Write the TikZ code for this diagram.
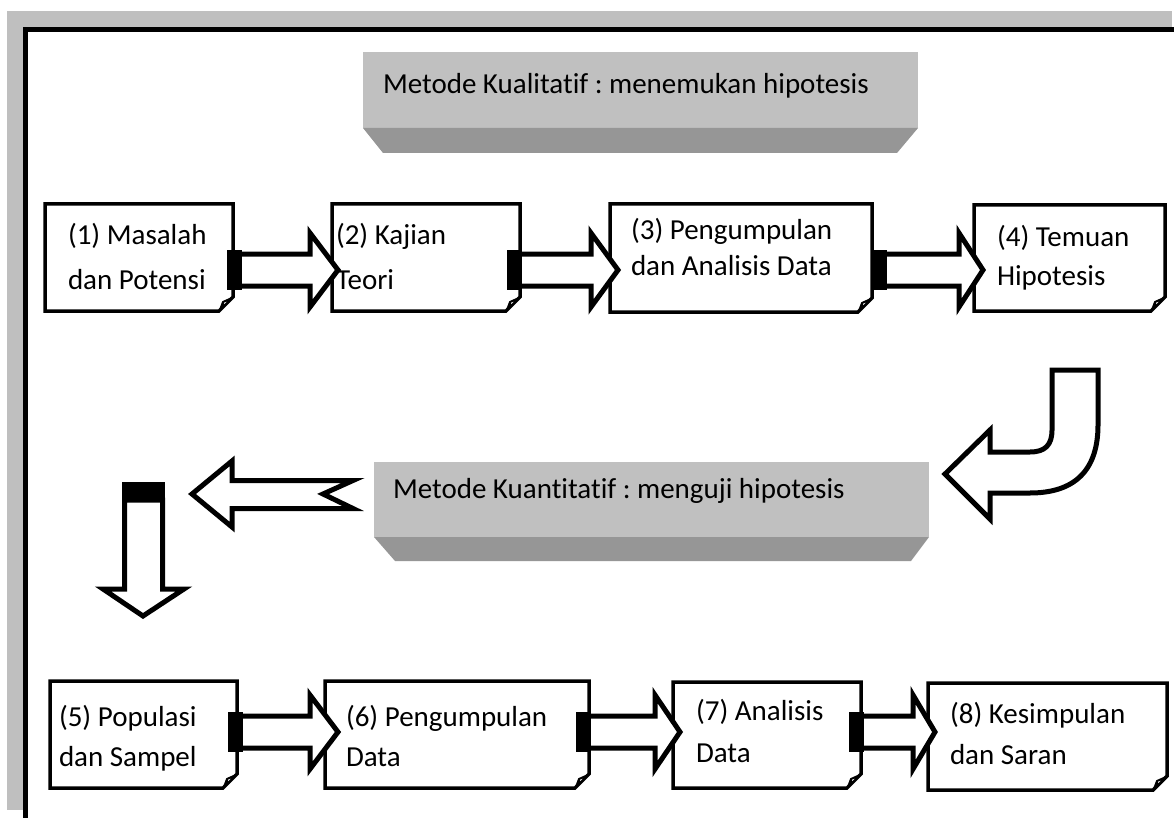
\documentclass[tikz,border=0pt]{standalone}
\usepackage{fontspec}
\setmainfont{Carlito}[Ligatures={NoCommon,NoContextual}]
\frenchspacing
\definecolor{pagegray}{RGB}{191,191,191}
\definecolor{titleface}{RGB}{192,192,192}
\definecolor{titleshade}{RGB}{150,150,150}
\tikzset{
  boxarea/.style={rectangle, inner sep=0pt, outer sep=0pt, draw=none},
  docbox/.style={draw=black, line width=3.5pt, fill=white, line join=miter},
  foldline/.style={draw=black, line width=2pt, fill=white, line join=round},
  barrow/.style={draw=black, line width=5pt, fill=white, line join=miter, miter limit=20},
  lbl/.style={anchor=base west, inner sep=0pt, outer sep=0pt, font=\fontsize{29}{29}\selectfont},
  titlebox/.style={rectangle, fill=titleface, inner sep=0pt, outer sep=0pt}
}
\begin{document}
\begin{tikzpicture}[x=1pt,y=-1pt]
\useasboundingbox (0,0) rectangle (1174,818);
\clip (0,0) rectangle (1174,818);
% page frame
\fill[pagegray] (7,11) rectangle (1172,810);
\fill[white] (25,29) rectangle (1190,830);
\draw[line width=5pt] (25.5,830) -- (25.5,29.5) -- (1190,29.5);

% title boxes
\node[titlebox, minimum width=555, minimum height=76] (t1) at (640.5,90) {};
\fill[titleshade] (t1.south west) -- (t1.south east) -- ++(-21,25) -- ([xshift=20pt,yshift=-25pt]t1.south west) -- cycle;
\node[lbl] (t1txt) at (383,94) {Metode Kualitatif : menemukan hipotesis};

\node[titlebox, minimum width=555, minimum height=75] (t2) at (651.5,499.5) {};
\fill[titleshade] (t2.south west) -- (t2.south east) -- ++(-18,24) -- ([xshift=21pt,yshift=-24pt]t2.south west) -- cycle;
\node[lbl] (t2txt) at (393,498) {Metode Kuantitatif : menguji hipotesis};

% document boxes
\foreach \n/\xa/\ya/\xb/\yb in {b1/45/204/233/311, b2/332/204/520/311, b3/610/204/872/312, b4/974/205/1165/311,
  b5/50/681/237/788, b6/325/681/589/788, b7/673/682/861/788, b8/928/683/1167/790}{
  \node[boxarea, minimum width={\xb-\xa}, minimum height={\yb-\ya}] (\n) at ({(\xa+\xb)/2},{(\ya+\yb)/2}) {};
  \draw[docbox] (\n.north west) -- (\n.north east) -- ([yshift=14pt]\n.south east) -- ([xshift=-14pt]\n.south east) -- (\n.south west) -- cycle;
  \draw[foldline] ([xshift=-13pt,yshift=1pt]\n.south east) -- ([xshift=-10pt,yshift=9pt]\n.south east) -- ([xshift=-1pt,yshift=13pt]\n.south east) -- cycle;
  \fill ([xshift=-13pt,yshift=1pt]\n.south east) -- ([xshift=-10pt,yshift=9pt]\n.south east) -- ([xshift=-8pt,yshift=6pt]\n.south east) -- cycle;
}

% straight block arrows
\foreach \n/\xs/\xh/\xt/\yc in {a12/227/310/338/270, a23/507/591/618/270, a34/872/959/983/270,
  a56/228/310/338/732, a67/576/655/680/732, a78/849/913/935/732}{
  \coordinate (\n) at (\xs,\yc);
  \draw[barrow] ({\xs+10},{\yc-16}) -- (\xh,{\yc-16}) -- (\xh,{\yc-37}) -- (\xt,\yc) -- (\xh,{\yc+37}) -- (\xh,{\yc+16}) -- ({\xs+10},{\yc+16}) -- cycle;
  \fill ({\xs},{\yc-20}) rectangle ({\xs+15},{\yc+20});
}

% curved arrow
\coordinate (cu) at (1075,370);
\draw[barrow] (1052,370) -- (1098,370) -- (1098,425) .. controls (1098,470) and (1075,493) .. (1030,493) -- (990,493) -- (990,519) -- (945,474) -- (990,430) -- (990,452) -- (1030,452) .. controls (1045,452) and (1052,445) .. (1052,430) -- cycle;

% left arrow
\coordinate (la) at (353,494);
\draw[barrow] (353,480.5) -- (232,480.5) -- (232,461) -- (192,494) -- (232,527) -- (232,508.5) -- (353,508.5) -- (323,494) -- cycle;

% down arrow
\coordinate (da) at (143,482);
\draw[barrow] (124.5,500) -- (124.5,589) -- (103,589) -- (143,616) -- (184,589) -- (162.5,589) -- (162.5,500) -- cycle;
\fill (122,482) rectangle (165,501);

% box texts
\node[lbl] (b1l1) at (68,244) {(1) Masalah};
\node[lbl] (b1l2) at (68,289) {dan Potensi};
\node[lbl] (b2l1) at (336,244) {(2) Kajian};
\node[lbl] (b2l2) at (336,289) {Teori};
\node[lbl] (b3l1) at (631,240) {(3) Pengumpulan};
\node[lbl] (b3l2) at (631,275) {dan Analisis Data};
\node[lbl] (b4l1) at (997,247) {(4) Temuan};
\begin{scope}
\clip (980,250) rectangle (1160,289);
\node[lbl] (b4l2) at (997,285) {Hipotesis};
\end{scope}
\node[lbl] (b5l1) at (59,726) {(5) Populasi};
\begin{scope}
\clip (55,730) rectangle (230,770);
\node[lbl] (b5l2) at (59,766) {dan Sampel};
\end{scope}
\node[lbl] (b6l1) at (346,726) {(6) Pengumpulan};
\node[lbl] (b6l2) at (346,766) {Data};
\node[lbl] (b7l1) at (696,720) {(7) Analisis};
\node[lbl] (b7l2) at (696,762) {Data};
\node[lbl] (b8l1) at (950,723) {(8) Kesimpulan};
\node[lbl] (b8l2) at (950,764) {dan Saran};
\end{tikzpicture}
\end{document}
